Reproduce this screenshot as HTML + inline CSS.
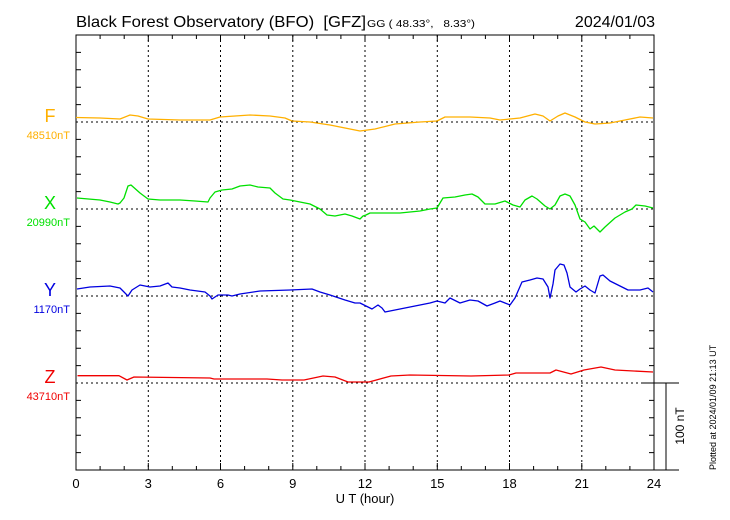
<!DOCTYPE html>
<html><head><meta charset="utf-8"><style>
body{margin:0;background:#fff;}
svg{display:block;font-family:"Liberation Sans",sans-serif;}
</style></head><body>
<svg width="730" height="520" viewBox="0 0 730 520" xmlns="http://www.w3.org/2000/svg">
<rect width="730" height="520" fill="#fff"/>
<text x="76" y="27" font-size="16" textLength="290" lengthAdjust="spacingAndGlyphs" style="white-space:pre">Black Forest Observatory (BFO)  [GFZ]</text>
<text x="367" y="27" font-size="10" textLength="108" lengthAdjust="spacingAndGlyphs" style="white-space:pre">GG ( 48.33°,   8.33°)</text>
<text x="655" y="27" font-size="16" text-anchor="end">2024/01/03</text>
<g stroke="#000" stroke-width="1" stroke-dasharray="2,3">
<line x1="148.3" y1="35" x2="148.3" y2="470"/><line x1="220.5" y1="35" x2="220.5" y2="470"/>
<line x1="292.8" y1="35" x2="292.8" y2="470"/><line x1="365" y1="35" x2="365" y2="470"/>
<line x1="437.3" y1="35" x2="437.3" y2="470"/><line x1="509.5" y1="35" x2="509.5" y2="470"/>
<line x1="581.8" y1="35" x2="581.8" y2="470"/>
<line x1="76" y1="122" x2="654" y2="122"/><line x1="76" y1="209" x2="654" y2="209"/>
<line x1="76" y1="296" x2="654" y2="296"/><line x1="76" y1="383" x2="643" y2="383"/>
</g>
<g stroke="#000" stroke-width="1" fill="none">
<rect x="76" y="35" width="578" height="435"/>
<line x1="654" y1="470" x2="679" y2="470"/>
<line x1="643" y1="383" x2="679" y2="383"/>
<line x1="666" y1="383" x2="666" y2="470"/>
</g>
<g fill="none" stroke-width="1.3" stroke-linejoin="round">
<polyline stroke="#ffb000" points="76,117.5 100,118 120,119 130,115 138,116 148,119 180,120 210,120 220,117 250,115 270,116 285,118 292,121 310,122 330,125 350,129 360,131 375,129 395,124 420,122 437,121 445,117 470,117 490,118 500,120 510,119 520,118 535,114 543,116 550,121 558,116 565,113 575,117 585,122 595,124 610,123 625,120 640,117 653,118"/>
<polyline stroke="#00e000" points="77,198 100,200 110,202 118,204 120,203 124,198 128,186 131,185 140,193 148,199 160,200 180,200 195,201 208,202 210,198 215,192 222,190 232,189 240,186 250,185 258,187 270,188 275,193 283,199 290,200 300,202 310,204 320,209 327,215 335,216 345,214 352,216 360,219 363,216 366,215 370,213 380,213 400,213 420,211 430,209 437,208 443,198 455,197 465,195 472,194 478,197 485,204 495,204 505,201 513,205 520,207 525,200 532,196 537,199 545,206 550,209 555,205 560,196 565,194 570,196 575,205 580,219 585,222 590,229 594,226 597,229 600,232 605,227 615,218 625,212 632,209 636,205 645,206 653,208"/>
<polyline stroke="#0000e0" points="77,289 90,287 110,286 120,288 124,292 128,296 132,290 140,285 150,287 160,286 168,283 172,287 180,288 190,290 205,292 210,296 212,299 218,295 228,295 232,296 240,294 260,291 290,290 312,289 320,292 330,295 345,300 355,303 360,303 366,306 372,309 378,305 382,308 385,312 395,310 410,307 430,303 437,301 445,303 450,298 456,301 460,303 470,300 478,301 487,306 495,303 500,301 505,303 510,305 515,298 522,282 530,280 537,278 543,279 548,287 550,298 553,284 555,270 560,264 564,265 567,273 570,287 576,292 580,289 585,286 590,290 595,293 600,276 603,275 610,281 620,286 628,290 640,290 648,288 653,292"/>
<polyline stroke="#f00000" points="77.5,375.7 119,375.7 127,380 134,377 210,378 214,379 267,379 282,380 304,380 323,376 335,377 348,382 369,382 391,376 410,375 471,376 509,375 516,373 550,373 556,370 571,374 584,370 601,367 615,370 653,372"/>
</g>
<g font-size="18">
<text x="50" y="122" fill="#ffb000" text-anchor="middle">F</text>
<text x="50" y="209" fill="#00e000" text-anchor="middle">X</text>
<text x="50" y="296" fill="#0000e0" text-anchor="middle">Y</text>
<text x="50" y="383" fill="#f00000" text-anchor="middle">Z</text>
</g>
<g font-size="11" text-anchor="end">
<text x="70" y="139" fill="#ffb000">48510nT</text>
<text x="70" y="226" fill="#00e000">20990nT</text>
<text x="70" y="313" fill="#0000e0">1170nT</text>
<text x="70" y="400" fill="#f00000">43710nT</text>
</g>
<g font-size="13" text-anchor="middle">
<text x="76" y="488">0</text><text x="148.3" y="488">3</text><text x="220.5" y="488">6</text>
<text x="292.8" y="488">9</text><text x="365" y="488">12</text><text x="437.3" y="488">15</text>
<text x="509.5" y="488">18</text><text x="581.8" y="488">21</text><text x="654" y="488">24</text>
<text x="365" y="503">U T (hour)</text>
</g>
<text transform="translate(684,426) rotate(-90)" font-size="12" text-anchor="middle">100 nT</text>
<text transform="translate(716,470) rotate(-90)" font-size="9">Plotted at 2024/01/09 21:13 UT</text>
<g stroke="#000" stroke-width="1">
<path d="M100.1,35v4M124.2,35v4M172.3,35v4M196.4,35v4M244.6,35v4M268.7,35v4M316.8,35v4M340.9,35v4M389.1,35v4M413.2,35v4M461.3,35v4M485.4,35v4M533.6,35v4M557.7,35v4M605.8,35v4M629.9,35v4M148.3,35v6M220.5,35v6M292.8,35v6M365,35v6M437.3,35v6M509.5,35v6M581.8,35v6"/>
<path d="M100.1,470v-4M124.2,470v-4M172.3,470v-4M196.4,470v-4M244.6,470v-4M268.7,470v-4M316.8,470v-4M340.9,470v-4M389.1,470v-4M413.2,470v-4M461.3,470v-4M485.4,470v-4M533.6,470v-4M557.7,470v-4M605.8,470v-4M629.9,470v-4M148.3,470v-7M220.5,470v-7M292.8,470v-7M365,470v-7M437.3,470v-7M509.5,470v-7M581.8,470v-7"/>
<path d="M76,52.4h5M76,69.8h5M76,87.2h5M76,104.6h5M76,139.4h5M76,156.8h5M76,174.2h5M76,191.6h5M76,226.4h5M76,243.8h5M76,261.2h5M76,278.6h5M76,313.4h5M76,330.8h5M76,348.2h5M76,365.6h5M76,400.4h5M76,417.8h5M76,435.2h5M76,452.6h5"/>
<path d="M654,52.4h-5M654,69.8h-5M654,87.2h-5M654,104.6h-5M654,139.4h-5M654,156.8h-5M654,174.2h-5M654,191.6h-5M654,226.4h-5M654,243.8h-5M654,261.2h-5M654,278.6h-5M654,313.4h-5M654,330.8h-5M654,348.2h-5M654,365.6h-5M654,400.4h-5M654,417.8h-5M654,435.2h-5M654,452.6h-5"/>
</g>
</svg>
</body></html>
